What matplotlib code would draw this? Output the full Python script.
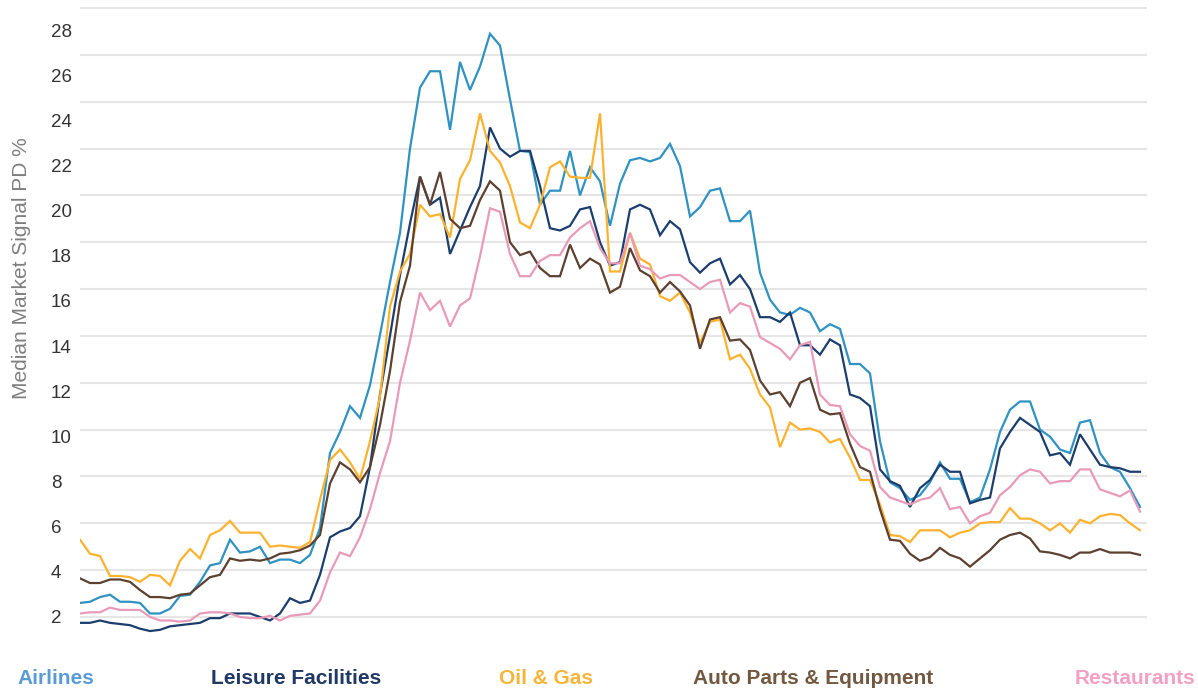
import matplotlib
matplotlib.use("Agg")
import matplotlib.pyplot as plt
import numpy as np

plt.rcParams['font.family'] = ['Liberation Sans', 'DejaVu Sans']

# weekly observation index (shared by all series)
airlines = [2.6, 2.65, 2.85, 2.95, 2.65, 2.65, 2.6, 2.15, 2.15, 2.35,
            2.9, 2.95, 3.5, 4.2, 4.3, 5.3, 4.75, 4.8, 5.0, 4.3,
            4.45, 4.45, 4.3, 4.65, 5.8, 9.0, 9.9, 11.0, 10.5, 11.9,
            14.05, 16.3, 18.4, 22.0, 24.6, 25.3, 25.3, 22.8, 25.7, 24.5,
            25.5, 26.9, 26.4, 24.1, 21.9, 21.85, 19.6, 20.2, 20.2, 21.9,
            20.0, 21.2, 20.6, 18.7, 20.5, 21.5, 21.6, 21.45, 21.6, 22.2,
            21.25, 19.1, 19.5, 20.2, 20.3, 18.9, 18.9, 19.35, 16.7, 15.55,
            15.0, 14.9, 15.2, 15.0, 14.2, 14.5, 14.3, 12.8, 12.8, 12.4,
            9.5, 7.75, 7.5, 7.0, 7.2, 7.75, 8.6, 7.9, 7.9, 6.9,
            7.1, 8.3, 9.9, 10.85, 11.2, 11.2, 10.0, 9.7, 9.15, 9.0,
            10.3, 10.4, 9.0, 8.4, 8.2, 7.5, 6.7]
leisure = [1.75, 1.75, 1.85, 1.75, 1.7, 1.65, 1.5, 1.4, 1.45, 1.6,
           1.65, 1.7, 1.75, 1.95, 1.95, 2.15, 2.15, 2.15, 2.0, 1.85,
           2.15, 2.8, 2.6, 2.7, 3.8, 5.4, 5.65, 5.8, 6.3, 8.4,
           11.5, 14.0, 16.6, 18.8, 20.8, 19.6, 19.9, 17.5, 18.5, 19.5,
           20.4, 22.9, 22.0, 21.65, 21.9, 21.9, 20.4, 18.6, 18.5, 18.7,
           19.4, 19.5, 18.0, 17.0, 17.15, 19.4, 19.6, 19.4, 18.3, 18.9,
           18.55, 17.15, 16.7, 17.1, 17.3, 16.2, 16.6, 16.0, 14.8, 14.8,
           14.6, 15.0, 13.6, 13.6, 13.2, 13.85, 13.6, 11.5, 11.35, 11.0,
           8.3, 7.8, 7.6, 6.7, 7.5, 7.85, 8.5, 8.2, 8.2, 6.85,
           7.0, 7.1, 9.2, 9.9, 10.5, 10.2, 9.9, 8.9, 9.0, 8.5,
           9.8, 9.15, 8.5, 8.4, 8.35, 8.2, 8.2]
oil_gas = [5.3, 4.7, 4.6, 3.75, 3.75, 3.7, 3.5, 3.8, 3.75, 3.35,
           4.4, 4.9, 4.5, 5.5, 5.7, 6.1, 5.6, 5.6, 5.6, 5.0,
           5.05, 5.0, 4.95, 5.2, 7.0, 8.7, 9.15, 8.6, 7.9, 9.5,
           11.4, 15.25, 16.75, 17.5, 19.6, 19.1, 19.2, 18.2, 20.7, 21.5,
           23.5, 21.9, 21.4, 20.4, 18.85, 18.6, 19.6, 21.2, 21.45, 20.8,
           20.75, 20.75, 23.5, 16.75, 16.75, 18.4, 17.3, 17.05, 15.7, 15.5,
           15.85, 15.0, 13.7, 14.6, 14.7, 13.0, 13.2, 12.6, 11.5, 10.95,
           9.25, 10.3, 10.0, 10.05, 9.9, 9.45, 9.6, 8.8, 7.85, 7.85,
           6.8, 5.5, 5.45, 5.2, 5.7, 5.7, 5.7, 5.4, 5.6, 5.7,
           6.0, 6.05, 6.05, 6.65, 6.2, 6.2, 6.0, 5.7, 6.0, 5.6,
           6.15, 6.0, 6.3, 6.4, 6.35, 6.0, 5.7]
auto_parts = [3.65, 3.45, 3.45, 3.6, 3.6, 3.5, 3.15, 2.85, 2.85, 2.8,
              2.95, 3.0, 3.35, 3.7, 3.8, 4.5, 4.4, 4.45, 4.4, 4.5,
              4.7, 4.75, 4.85, 5.05, 5.5, 7.7, 8.6, 8.3, 7.75, 8.4,
              10.2, 12.5, 15.45, 17.0, 20.8, 19.6, 21.0, 19.0, 18.6, 18.7,
              19.8, 20.6, 20.2, 18.0, 17.45, 17.6, 16.9, 16.55, 16.55, 17.9,
              16.9, 17.3, 17.05, 15.85, 16.1, 17.75, 16.8, 16.55, 15.85, 16.3,
              15.9, 15.3, 13.45, 14.7, 14.8, 13.8, 13.85, 13.4, 12.1, 11.5,
              11.6, 11.0, 12.0, 12.2, 10.85, 10.65, 10.7, 9.4, 8.4, 8.2,
              6.6, 5.3, 5.25, 4.7, 4.4, 4.55, 4.95, 4.65, 4.5, 4.15,
              4.5, 4.85, 5.3, 5.5, 5.6, 5.35, 4.8, 4.75, 4.65, 4.5,
              4.75, 4.75, 4.9, 4.75, 4.75, 4.75, 4.65]
restaurants = [2.15, 2.2, 2.2, 2.4, 2.3, 2.3, 2.3, 2.0, 1.85, 1.85,
               1.8, 1.85, 2.15, 2.2, 2.2, 2.15, 2.0, 1.95, 1.95, 2.05,
               1.85, 2.05, 2.1, 2.15, 2.7, 3.9, 4.75, 4.6, 5.4, 6.6,
               8.15, 9.5, 12.0, 13.8, 15.85, 15.1, 15.5, 14.4, 15.3, 15.6,
               17.4, 19.45, 19.3, 17.5, 16.55, 16.55, 17.2, 17.45, 17.45, 18.2,
               18.6, 18.9, 17.75, 17.1, 17.1, 18.4, 17.0, 16.85, 16.45, 16.6,
               16.6, 16.3, 16.0, 16.3, 16.4, 15.0, 15.4, 15.25, 13.95, 13.7,
               13.45, 13.0, 13.6, 13.75, 11.5, 11.05, 11.0, 9.8, 9.3, 9.1,
               7.55, 7.1, 6.95, 6.8, 7.0, 7.1, 7.5, 6.6, 6.7, 6.0,
               6.3, 6.45, 7.2, 7.55, 8.05, 8.3, 8.2, 7.7, 7.8, 7.8,
               8.3, 8.3, 7.45, 7.3, 7.15, 7.4, 6.5]

series_names = ["Airlines", "Leisure Facilities", "Oil & Gas",
                "Auto Parts & Equipment", "Restaurants"]
y_ticks = [2, 4, 6, 8, 10, 12, 14, 16, 18, 20, 22, 24, 26, 28]

line_colors = ["#2f92c1", "#1c3e6d", "#fdb22f", "#5c4030", "#e89bb8"]
text_colors = ["#5b9bd5", "#1f3864", "#f7b538", "#735840", "#f4a0c5"]

fig = plt.figure(figsize=(11.98, 6.9), dpi=100)
ax = fig.add_axes([80/1198, 1-640/690, (1147-80)/1198, 636/690])

x = np.arange(len(airlines))
for vals, col in zip([airlines, leisure, oil_gas, auto_parts, restaurants], line_colors):
    ax.plot(x, vals, color=col, lw=1.6, solid_joinstyle='miter', zorder=3)

for t in y_ticks:
    ax.axhline(t, color="#e6e6e6", lw=1.5, zorder=1)

ax.set_xlim(0, len(airlines) - 1 + 0.7)
ax.set_ylim(2 - 23/23.4, 28 + 4/23.4)

# tick labels (slightly compressed spacing as in the source)
label_pos = [2 + (v - 2) * 0.9637 for v in y_ticks]
ax.set_yticks(label_pos)
ax.set_yticklabels([str(v) for v in y_ticks])
ax.tick_params(axis='y', length=0, pad=21, labelsize=13.5, labelcolor="#333333")
for lab in ax.get_yticklabels():
    lab.set_horizontalalignment('left')
ax.set_xticks([])
for s in ax.spines.values():
    s.set_visible(False)

fig.text(22/1198, 1-268/690, "Median Market Signal PD %", rotation=90,
         ha='center', va='center', fontsize=15, color="#7f7f7f")

centers = [56, 296.5, 546, 813, 1135.5]
for name, cx, col in zip(series_names, centers, text_colors):
    fig.text(cx/1198, 1-679/690, name, ha='center', va='center',
             fontsize=15, fontweight='bold', color=col)

fig.savefig("out.png", dpi=100)
